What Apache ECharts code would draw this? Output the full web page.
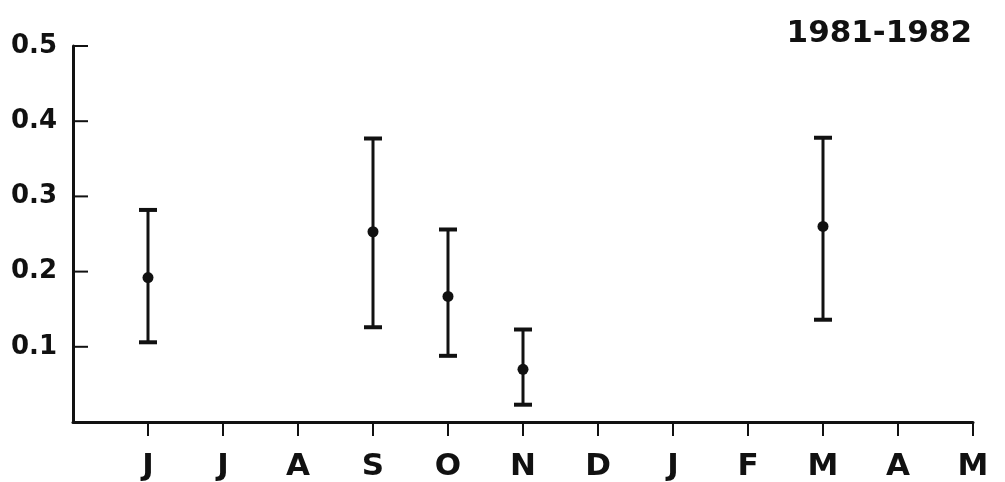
<!DOCTYPE html>
<html>
<head>
<meta charset="utf-8">
<script src="https://cdn.jsdelivr.net/npm/echarts@6/dist/echarts.min.js"></script>
<style>html,body{margin:0;padding:0;background:#fff}#c{width:1005px;height:482px}</style>
</head>
<body>
<div id="c"></div>
<script>
// Data
const monthLabels = ['J','J','A','S','O','N','D','J','F','M','A','M'];
const monthTicks = [1,2,3,4,5,6,7,8,9,10,11,12];
const yTickValues = [0.1,0.2,0.3,0.4,0.5];
const yTickLabels = ['0.1','0.2','0.3','0.4','0.5'];
const pointMonth = [1,4,5,6,10];
const means = [0.192,0.253,0.167,0.070,0.260];
const lowers = [0.106,0.126,0.088,0.023,0.136];
const uppers = [0.282,0.377,0.256,0.123,0.378];
const title = '1981-1982';

const ink = '#111';
const errData = pointMonth.map((m,i)=>[m, lowers[i], uppers[i]]);
const meanData = pointMonth.map((m,i)=>[m, means[i]]);
const tickData = yTickValues.map(v=>[0, v]);

const chart = echarts.init(document.getElementById('c'), null, {renderer:'canvas'});
chart.setOption({
  animation:false,
  backgroundColor:'#fff',
  title:{text:title, right:28, top:13, textStyle:{fontFamily:'DejaVu Sans', fontSize:31, fontWeight:'bold', color:ink}},
  grid:{left:73, right:32, top:46, bottom:59, containLabel:false},
  xAxis:{
    type:'value', min:0, max:12, interval:1,
    axisLine:{show:true, lineStyle:{color:ink, width:3}},
    axisTick:{show:true, inside:false, length:14, customValues:monthTicks, lineStyle:{color:ink, width:2}},
    axisLabel:{show:true, customValues:monthTicks, margin:29, fontFamily:'DejaVu Sans', fontSize:31, fontWeight:'bold', color:ink,
      formatter:(v)=>monthLabels[Math.round(v)-1] || ''},
    splitLine:{show:false}
  },
  yAxis:{
    type:'value', min:0, max:0.5, interval:0.1,
    axisLine:{show:true, lineStyle:{color:ink, width:3}},
    axisTick:{show:false},
    axisLabel:{show:true, margin:16, fontFamily:'DejaVu Sans', fontSize:26, fontWeight:'bold', color:ink,
      formatter:(v)=>{const i=Math.round(v*10)-1; return i>=0 ? yTickLabels[i] : '';}},
    splitLine:{show:false}
  },
  series:[
    {
      // inward-pointing y-axis ticks
      type:'custom',
      data:tickData,
      silent:true,
      renderItem:function(params, api){
        const p = api.coord([api.value(0), api.value(1)]);
        return {type:'line', shape:{x1:p[0], y1:p[1], x2:p[0]+15, y2:p[1]}, style:{stroke:ink, lineWidth:2}};
      },
      z:1
    },
    {
      type:'custom',
      data:errData,
      renderItem:function(params, api){
        const x = api.value(0);
        const lo = api.coord([x, api.value(1)]);
        const hi = api.coord([x, api.value(2)]);
        const hw = 9;
        return {type:'group', children:[
          {type:'line', shape:{x1:lo[0], y1:lo[1], x2:hi[0], y2:hi[1]}, style:{stroke:ink, lineWidth:3}},
          {type:'line', shape:{x1:lo[0]-hw, y1:lo[1], x2:lo[0]+hw, y2:lo[1]}, style:{stroke:ink, lineWidth:4}},
          {type:'line', shape:{x1:hi[0]-hw, y1:hi[1], x2:hi[0]+hw, y2:hi[1]}, style:{stroke:ink, lineWidth:4}}
        ]};
      },
      z:2
    },
    {
      type:'scatter', data:meanData, symbol:'circle', symbolSize:11,
      itemStyle:{color:ink, opacity:1}, z:3
    }
  ]
});
</script>
</body>
</html>
